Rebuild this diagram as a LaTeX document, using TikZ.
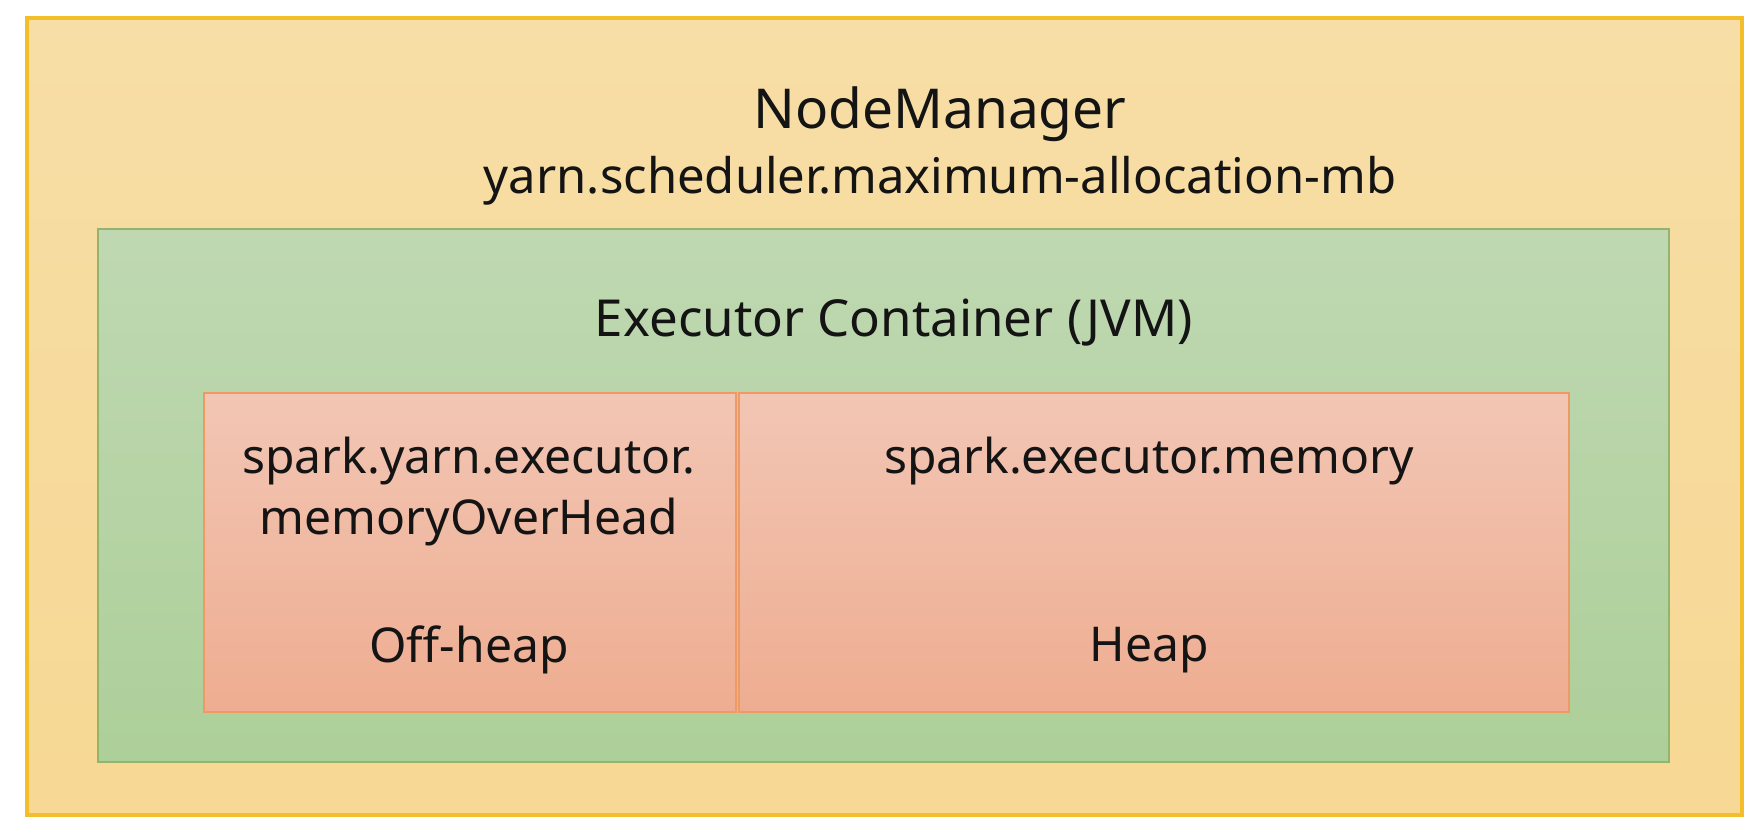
\documentclass[tikz,border=0pt]{standalone}
\usepackage{fontspec}
\setmainfont{Noto Sans}
\definecolor{outerfill}{HTML}{F7DEA6}
\definecolor{outerfillb}{HTML}{F7D894}
\definecolor{outerline}{HTML}{F4BE2A}
\definecolor{greenfill}{HTML}{BFD8B2}
\definecolor{greenfillb}{HTML}{ADCF99}
\definecolor{greenline}{HTML}{94B46E}
\definecolor{redfill}{HTML}{F2C6B4}
\definecolor{redfillb}{HTML}{EEAD91}
\definecolor{redline}{HTML}{EE9A66}
\tikzset{
  outerbox/.style={draw=outerline, line width=4pt, top color=outerfill, bottom color=outerfillb, anchor=north west, inner sep=0pt},
  greenbox/.style={draw=greenline, line width=1.6pt, top color=greenfill, bottom color=greenfillb, anchor=north west, inner sep=0pt},
  redbox/.style={draw=redline, line width=1.6pt, top color=redfill, bottom color=redfillb, anchor=north west, inner sep=0pt},
  lbl/.style={text=black!92, inner sep=0pt, anchor=center},
  spk/.style={lbl, font=\fontsize{48}{54}\selectfont}
}
\begin{document}
\begin{tikzpicture}[x=1pt,y=-1pt]
\useasboundingbox (0,0) rectangle (1758,832);
\node[outerbox, minimum width=1715pt, minimum height=797pt] (outer) at (25,16) {};
\node[greenbox, minimum width=1571pt, minimum height=533pt] (green) at (97,228) {};
\node[redbox, minimum width=532pt, minimum height=319pt] (offheap) at (203,392) {};
\node[redbox, minimum width=830pt, minimum height=319pt] (heap) at (738,392) {};
\node[lbl, font=\fontsize{55}{60}\selectfont] (nm) at (940,114) {NodeManager};
\node[lbl, font=\fontsize{49}{54}\selectfont] (yarn) at (940,181) {yarn.scheduler.maximum-allocation-mb};
\node[lbl, font=\fontsize{51}{56}\selectfont] (exec) at (894,323) {Executor Container (JVM)};
\node[spk] (oh1) at (469,461) {spark.yarn.executor.};
\node[spk] (oh2) at (469,522) {memoryOverHead};
\node[spk] (oh3) at (469,650) {Off-heap};
\node[spk] (hp1) at (1149,461) {spark.executor.memory};
\node[spk] (hp2) at (1149,650) {Heap};
\end{tikzpicture}
\end{document}
